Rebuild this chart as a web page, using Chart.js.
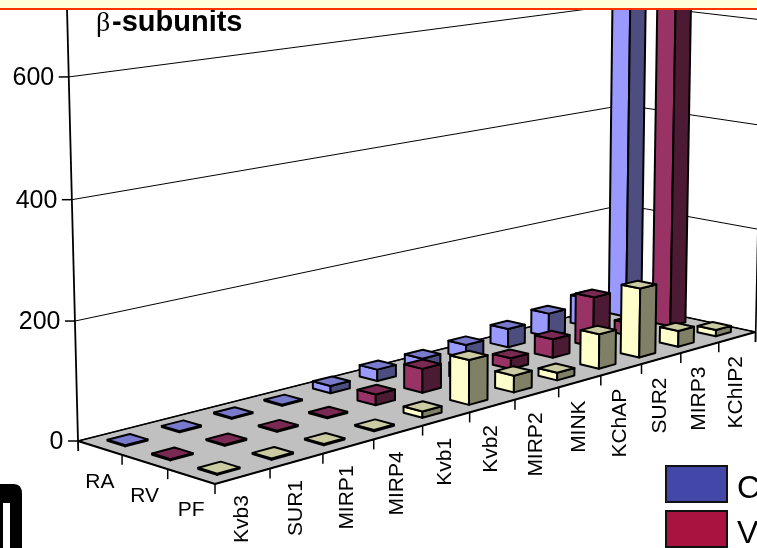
<!DOCTYPE html>
<html><head><meta charset="utf-8">
<style>html,body{margin:0;padding:0;background:#fff;overflow:hidden}canvas{display:block}</style>
<script src="https://cdn.jsdelivr.net/npm/chart.js@4"></script>
</head><body><canvas id="c" width="757" height="548"></canvas>
<script>
const categories = ["Kvb3","SUR1","MIRP1","MIRP4","Kvb1","Kvb2","MIRP2","MINK","KChAP","SUR2","MIRP3","KChIP2"];
const depthLabels = ["RA","RV","PF"];
const yTicks = [0,200,400,600];
const legendLabels = ["C","V"];
const valuesRA = [2,2,2,2,13,21,20,25,35,45,55,850];
const valuesRV = [2,2,2,2,19,43,25,20,35,95,24,850];
const valuesPF = [2,2,2,2,11,79,30,14,64,130,30,12];
const faceRA = ["#9999ff","#4d4d80","#7a7acc"];
const faceRV = ["#993366","#4d1a33","#7a2952"];
const facePF = ["#ffffcc","#808066","#cccca3"];
const legendColors = ["#4347a8","#a8143f"];

// camera model of the 3-D floor: four image corners of the floor plane
const L={x:78,y:441}, B={x:622,y:303.5}, R={x:755.5,y:332}, F={x:215,y:484};
const barFill=0.40, leanX=438, leanD=14160, refScale=431/710;
const det=(B.x-R.x)*(F.y-R.y)-(F.x-R.x)*(B.y-R.y);
const sx=L.x-B.x+R.x-F.x, sy=L.y-B.y+R.y-F.y;
const g=(sx*(F.y-R.y)-(F.x-R.x)*sy)/det, h2=((B.x-R.x)*sy-sx*(B.y-R.y))/det;
const ha=B.x-L.x+g*B.x, hb=F.x-L.x+h2*F.x, hd=B.y-L.y+g*B.y, he=F.y-L.y+h2*F.y;
function floorPt(u,v){const w=g*u+h2*v+1;return {x:(ha*u+hb*v+L.x)/w,y:(hd*u+he*v+L.y)/w};}
function project(u,v,lift){ // lift: pixels on the y scale (at the left wall)
  const p=floorPt(u,v);
  const invS=-2.9e-5*p.x-0.0027*p.y+2.841;
  const bent=lift*(0.9827+4.74e-5*lift); // height foreshortening
  const dy=bent/refScale/invS;
  return {x:p.x+(p.x-leanX)/leanD*dy,y:p.y-dy};
}
function poly(ctx,pts,fill){ctx.beginPath();pts.forEach((p,i)=>i?ctx.lineTo(p.x,p.y):ctx.moveTo(p.x,p.y));ctx.closePath();
  if(fill){ctx.fillStyle=fill;ctx.fill();}ctx.stroke();}
function line(ctx,a,b,w){ctx.lineWidth=w;ctx.beginPath();ctx.moveTo(a.x,a.y);ctx.lineTo(b.x,b.y);ctx.stroke();}
function uOf(chart,i){const s=chart.scales.x;return (s.getPixelForValue(i)-s.left)/s.width;}
function vOf(chart,i){const s=chart.scales.z;return (s.getPixelForValue(i)-s.left)/s.width;}

class Bar3D extends Chart.BarController{
  draw(){
    const meta=this.getMeta(), chart=this.chart, ctx=chart.ctx, y=chart.scales.y, n=categories.length;
    const ds=this.getDataset(), row=ds.row, du=barFill/n/2*1.02, dv=barFill/3/2*1.0;
    const v0=vOf(chart,row);
    ctx.save();ctx.strokeStyle="#000";ctx.lineWidth=2;ctx.lineJoin="round";
    for(let i=meta.data.length-1;i>=0;i--){
      const lift=y.getPixelForValue(0)-y.getPixelForValue(meta._parsed[i].y);
      const u0=uOf(chart,i);
      const a=[u0-du,v0+dv],b=[u0+du,v0+dv],c=[u0+du,v0-dv],d=[u0-du,v0-dv];
      const A0=project(a[0],a[1],0),B0=project(b[0],b[1],0),D0=project(d[0],d[1],0);
      const A1=project(a[0],a[1],lift),B1=project(b[0],b[1],lift),C1=project(c[0],c[1],lift),D1=project(d[0],d[1],lift);
      poly(ctx,[D0,A0,A1,D1],ds.faces[0]);
      poly(ctx,[A0,B0,B1,A1],ds.faces[1]);
      poly(ctx,[A1,B1,C1,D1],ds.faces[2]);
    }
    ctx.restore();
  }
}
Bar3D.id="bar3d";
Bar3D.defaults=Chart.BarController.defaults;
Chart.register(Bar3D);

const scene={
  id:"scene",
  beforeDatasetsDraw(chart){
    const ctx=chart.ctx,y=chart.scales.y;
    ctx.save();ctx.strokeStyle="#000";
    const ticks=y.ticks.filter(t=>yTicks.includes(t.value));
    // walls' gridlines
    ticks.forEach(t=>{ if(t.value===0)return;
      const lift=y.getPixelForValue(0)-y.getPixelForValue(t.value);
      ctx.lineWidth=1;ctx.beginPath();
      [project(0,0,lift),project(1,0,lift),project(1,1,lift)].forEach((p,i)=>i?ctx.lineTo(p.x,p.y):ctx.moveTo(p.x,p.y));
      ctx.stroke();
    });
    // floor
    ctx.lineWidth=1;ctx.fillStyle="#c0c0c0";ctx.lineJoin="miter";
    ctx.beginPath();[L,B,R,F].forEach((p,i)=>i?ctx.lineTo(p.x,p.y):ctx.moveTo(p.x,p.y));ctx.closePath();ctx.fill();ctx.stroke();
    line(ctx,L,F,2);line(ctx,F,R,2);line(ctx,L,B,1.5);line(ctx,B,R,1.5);
    // vertical axis
    const top=project(0,0,y.getPixelForValue(0)-y.getPixelForValue(730));
    line(ctx,{x:L.x+0.25,y:L.y+10},top,1.8);
    line(ctx,{x:R.x,y:R.y+10},project(1,1,y.getPixelForValue(0)-y.getPixelForValue(300)),1.6);
    // ticks and labels
    ctx.fillStyle="#000";
    ctx.font='25px "Liberation Sans"';ctx.textAlign="right";ctx.textBaseline="middle";
    ticks.forEach(t=>{
      const lift=y.getPixelForValue(0)-y.getPixelForValue(t.value);
      const p=project(0,0,lift);
      line(ctx,{x:p.x-10,y:p.y},p,1.5);
      ctx.fillText(String(t.value),p.x-14.5,p.y+1);
    });
    const n=categories.length;
    for(let k=1;k<=n;k++){const p=floorPt(k/n,1);line(ctx,p,{x:p.x,y:p.y+10},1.5);}
    for(let k=1;k<=3;k++){const p=floorPt(0,k/3);line(ctx,p,{x:p.x,y:p.y+10},1.5);}
    ctx.font='21px "Liberation Sans"';
    chart.scales.x.ticks.forEach((t,i)=>{
      const p=floorPt(uOf(chart,i),1);
      ctx.save();ctx.translate(p.x-1,p.y+19);ctx.rotate(-Math.PI/2);
      ctx.textAlign="right";ctx.textBaseline="middle";ctx.fillText(categories[i],0,0);ctx.restore();
    });
    ctx.textAlign="center";ctx.textBaseline="middle";
    chart.scales.z.ticks.forEach((t,i)=>{
      const p=floorPt(0,vOf(chart,i));
      ctx.fillText(depthLabels[i],p.x,p.y+34);
    });
    ctx.restore();
  },
  afterDatasetsDraw(chart){
    const ctx=chart.ctx;
    ctx.save();
    // title
    ctx.fillStyle="#000";ctx.textAlign="left";ctx.textBaseline="alphabetic";
    ctx.font='28px "Liberation Serif"';ctx.fillText("β",96,31);
    ctx.font='bold 29px "Liberation Sans"';ctx.fillText("-subunits",112,31);
    // top band
    ctx.fillStyle="#ffffd9";ctx.fillRect(0,0,757,8);
    ctx.fillStyle="#ff3300";ctx.fillRect(0,8,757,2);
    // legend
    ctx.strokeStyle="#111";ctx.lineWidth=2;
    legendLabels.forEach((s,i)=>{
      const top=466+i*45;
      ctx.fillStyle=legendColors[i];ctx.fillRect(666,top,61,36);ctx.strokeRect(666,top,61,36);
      ctx.fillStyle="#000";ctx.font='32px "Liberation Sans"';ctx.textAlign="left";ctx.textBaseline="alphabetic";
      ctx.fillText(s,737,top+32);
    });
    // fragment of a logo at the lower-left
    ctx.fillStyle="#000";
    ctx.beginPath();ctx.moveTo(0,484);ctx.lineTo(14,484);ctx.quadraticCurveTo(22,484,22,494);ctx.lineTo(22,548);ctx.lineTo(10,548);ctx.lineTo(10,503);ctx.lineTo(3,503);ctx.lineTo(3,548);ctx.lineTo(0,548);ctx.closePath();ctx.fill();
    ctx.restore();
  }
};

new Chart(document.getElementById("c"),{
  type:"bar3d",
  data:{labels:categories,datasets:[
    {label:depthLabels[0],data:valuesRA,row:0,faces:faceRA,order:3,clip:false},
    {label:depthLabels[1],data:valuesRV,row:1,faces:faceRV,order:2,clip:false},
    {label:depthLabels[2],data:valuesPF,row:2,faces:facePF,order:1,clip:false}
  ]},
  options:{
    responsive:false,animation:false,devicePixelRatio:1,
    layout:{padding:{left:78,right:1.5,top:10,bottom:107}},
    plugins:{legend:{display:false},title:{display:false},tooltip:{enabled:false}},
    scales:{
      x:{type:"category",display:false,offset:true,ticks:{autoSkip:false}},
      z:{type:"category",axis:"x",labels:depthLabels,display:false,offset:true,ticks:{autoSkip:false}},
      y:{type:"linear",display:false,min:0,max:710,ticks:{stepSize:200}}
    }
  },
  plugins:[scene]
});
</script></body></html>
